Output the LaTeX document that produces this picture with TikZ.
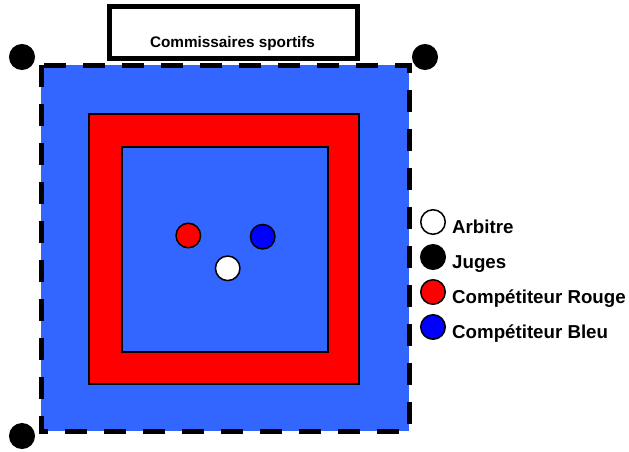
\documentclass[tikz,border=0pt]{standalone}
\usepackage{fontspec}
\setmainfont{Liberation Sans}
\definecolor{bleutapis}{RGB}{51,102,255}
\definecolor{bleupion}{RGB}{0,0,255}
\begin{document}
\begin{tikzpicture}[x=1pt,y=-1pt,
    pion/.style={circle,draw=black,line width=1.5pt,minimum size=24.5pt,inner sep=0pt},
    legende/.style={anchor=base west,inner sep=0pt,font=\fontsize{18.7}{20}\selectfont\bfseries}]
    \useasboundingbox (0,0) rectangle (629,451);
    \def\tapis{(41,65) -- (41,431) -- (409,431) -- (409,65) -- cycle}
    \fill [bleutapis]\tapis ;
    \draw [line width=5pt,dash pattern=on 22pt off 17pt]\tapis ;
    % zone rouge et zone centrale
    \draw [fill=red,line width=2pt](89,114) rectangle (359,384);
    \draw [fill=bleutapis,line width=2pt](122,147) rectangle (328,352);
    % table des commissaires
    \node [draw,line width=5pt,minimum width=248pt,minimum height=52pt,inner sep=0pt] (table) at (233.5,32.5) {};
    \node [anchor=base,inner sep=0pt,font=\fontsize{15.3}{17}\selectfont\bfseries] (tabletxt) at (232.5,47) {Commissaires sportifs};
    % juges
    \node [pion,fill=black] (juge1) at (22,57) {};
    \node [pion,fill=black] (juge2) at (425,57) {};
    \node [pion,fill=black] (juge3) at (22,436) {};
    % arbitre et competiteurs
    \node [pion,fill=red] (rouge) at (188.3,235.5) {};
    \node [pion,fill=bleupion] (bleu) at (262.7,236.7) {};
    \node [pion,fill=white] (arbitre) at (227.7,268.3) {};
    % legende
    \node [pion,fill=white] (legA) at (433,222) {};
    \node [pion,fill=black] (legJ) at (433,257) {};
    \node [pion,fill=red] (legR) at (433,292) {};
    \node [pion,fill=bleupion] (legB) at (433,327) {};
    \node [legende] (txtA) at (452,233) {Arbitre};
    \node [legende] (txtJ) at (452,268) {Juges};
    \node [legende] (txtR) at (452,303) {Compétiteur Rouge};
    \node [legende] (txtB) at (452,338) {Compétiteur Bleu};
\end{tikzpicture}
\end{document}
